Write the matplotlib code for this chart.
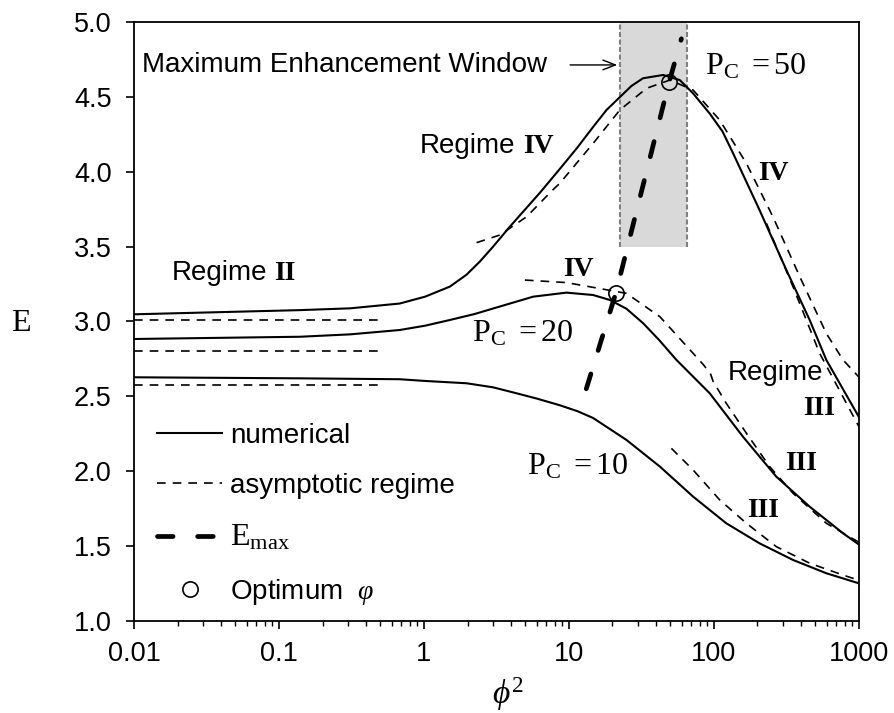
import matplotlib
matplotlib.use("Agg")
import matplotlib.pyplot as plt
from matplotlib.lines import Line2D

plt.rcParams['font.family'] = ['Liberation Sans', 'DejaVu Sans']
plt.rcParams['mathtext.fontset'] = 'custom'
plt.rcParams['mathtext.rm'] = 'Liberation Serif'
plt.rcParams['mathtext.it'] = 'Liberation Serif:italic'
plt.rcParams['mathtext.bf'] = 'Liberation Serif:bold'

# ---------------- data ----------------
# P_C = 50, numerical
x50_num = [0.01, 0.14, 0.31, 0.68, 1.02, 1.51, 1.97, 2.43, 3.0, 3.92, 6.31, 8.67, 11.5,
           14.7, 18.2, 22.5, 27, 32.5, 44.7, 58.3, 72, 93.8, 115, 136, 207, 317, 459, 598,
           1000]
e50_num = [3.048, 3.076, 3.088, 3.12, 3.166, 3.233, 3.313, 3.40, 3.50, 3.634, 3.86, 4.02,
           4.165, 4.30, 4.414, 4.50, 4.574, 4.626, 4.648, 4.614, 4.525, 4.39, 4.27, 4.124,
           3.745, 3.344, 3.01, 2.743, 2.364]
# P_C = 50, asymptotic regime IV
x50_iv = [2.31, 3.34, 5.11, 7.76, 8.67, 14.7, 22.5, 34.4, 49.8, 72.1, 110, 168, 256, 392,
          598, 780, 1000]
e50_iv = [3.527, 3.578, 3.70, 3.88, 3.924, 4.19, 4.414, 4.559, 4.614, 4.547, 4.346, 4.057,
          3.70, 3.30, 2.92, 2.743, 2.63]
# P_C = 50, asymptotic regime III
x50_iii = [231, 352, 538, 1000]
e50_iii = [3.656, 3.233, 2.787, 2.30]

# P_C = 20, numerical
x20_num = [0.01, 0.14, 0.31, 0.68, 1.02, 1.51, 2.24, 3.34, 5.68, 9.64, 14.7, 19.2, 25,
           32.6, 42, 55.3, 93.8, 159, 270, 459, 780, 1000]
e20_num = [2.883, 2.898, 2.914, 2.943, 2.972, 3.01, 3.05, 3.10, 3.166, 3.193, 3.177, 3.144,
           3.085, 2.988, 2.876, 2.743, 2.52, 2.23, 1.963, 1.762, 1.584, 1.51]
# P_C = 20, asymptotic regime IV
x20_iv = [4.98, 9.64, 16.4, 25, 42.5, 72.1, 85, 95]
e20_iv = [3.277, 3.26, 3.22, 3.188, 3.032, 2.787, 2.71, 2.65]
# P_C = 20, asymptotic regime III
x20_iii = [95, 99, 122, 168, 243, 352, 598, 1000]
e20_iii = [2.65, 2.60, 2.453, 2.253, 2.03, 1.852, 1.651, 1.525]

# P_C = 10, numerical
x10_num = [0.01, 0.14, 0.68, 1.0, 1.97, 3.0, 4.36, 6.0, 8.67, 11.5, 14.7, 25, 42.5, 72.1,
           122, 207, 352, 598, 1000]
e10_num = [2.627, 2.62, 2.614, 2.603, 2.587, 2.56, 2.52, 2.485, 2.44, 2.40, 2.355, 2.208,
           2.03, 1.829, 1.651, 1.517, 1.406, 1.317, 1.25]
# P_C = 10, asymptotic regime III
x10_iii = [51, 72.1, 110, 168, 270, 459, 780, 1000]
e10_iii = [2.152, 2.007, 1.807, 1.651, 1.495, 1.384, 1.305, 1.27]

# asymptotic regime II (low phi^2), for P_C = 50, 20, 10
x_ii = [0.01, 0.5]
e_ii = [3.01, 2.805, 2.578]

# E_max line and optimum points
x_emax = [13.2, 21.1, 49.2, 59.8]
e_emax = [2.55, 3.19, 4.60, 4.89]
x_opt = [21.1, 49.2]
e_opt = [3.188, 4.603]

# maximum enhancement window
win_x = [22.5, 64.9]
win_e = [3.5, 5.0]

xticks = [0.01, 0.1, 1, 10, 100, 1000]
xticklabels = ['0.01', '0.1', '1', '10', '100', '1000']
yticks = [1.0, 1.5, 2.0, 2.5, 3.0, 3.5, 4.0, 4.5, 5.0]

# ---------------- figure ----------------
fig = plt.figure(figsize=(8.94, 7.13), dpi=100)
ax = fig.add_axes([0.1499, 0.1295, 0.8106, 0.8392])
ax.set_xscale('log')
ax.set_xlim(0.01, 1000)
ax.set_ylim(1.0, 5.0)

# window
ax.fill_between(win_x, win_e[0], win_e[1], color='#d9d9d9', lw=0, zorder=1)
for xv in win_x:
    ax.plot([xv, xv], win_e, color='#808080', lw=1.5, dashes=(2.4, 1.2), zorder=1.5)

sol = dict(color='black', lw=1.5, zorder=3)
das = dict(color='black', lw=1.2, dashes=(5.2, 4.2), zorder=3)

ax.plot(x50_num, e50_num, **sol)
ax.plot(x20_num, e20_num, **sol)
ax.plot(x10_num, e10_num, **sol)
ax.plot(x50_iv, e50_iv, **das)
ax.plot(x50_iii, e50_iii, **das)
ax.plot(x20_iv, e20_iv, **das)
ax.plot(x20_iii, e20_iii, **das)
ax.plot(x10_iii, e10_iii, **das)
for ev in e_ii:
    ax.plot(x_ii, [ev, ev], **das)

ax.plot(x_emax, e_emax, color='black', lw=3.4, dashes=(3.3, 5.2),
        dash_capstyle='round', zorder=4)
ax.plot(x_opt, e_opt, ls='none', marker='o', ms=11, mfc='none', mec='black',
        mew=1.2, zorder=5)

# ---------------- annotations ----------------
ax.text(0.01135, 4.715, 'Maximum Enhancement Window', fontsize=20, ha='left', va='center')
ax.annotate('', xy=(21.6, 4.715), xytext=(10.2, 4.715),
            arrowprops=dict(arrowstyle='->,head_length=0.9,head_width=0.35', lw=1.0,
                            color='black', shrinkA=0, shrinkB=0))

pc_kw = dict(fontsize=23, ha='left', va='baseline')
ax.text(86.7, 4.648, r'$\mathrm{P}_{\mathrm{C}}\ = 50$', **pc_kw)
ax.text(2.14, 2.865, r'$\mathrm{P}_{\mathrm{C}}\ = 20$', **pc_kw)
ax.text(5.13, 1.98, r'$\mathrm{P}_{\mathrm{C}}\ =10$', **pc_kw)

rg_kw = dict(fontsize=20, ha='left', va='baseline')
rn_kw = dict(fontsize=20, ha='left', va='baseline', family='Liberation Serif',
             fontweight='bold')
ax.text(0.938, 4.126, 'Regime', **rg_kw)
ax.text(10 ** (-2 + (523 - 134) / 145), 4.126, 'IV', **rn_kw)
ax.text(0.01828, 3.277, 'Regime', **rg_kw)
ax.text(10 ** (-2 + (274 - 134) / 145), 3.277, 'II', **rn_kw)
ax.text(201, 3.946, 'IV', **rn_kw)
ax.text(9.1, 3.304, 'IV', **rn_kw)
ax.text(125, 2.609, 'Regime', **rg_kw)
ax.text(411, 2.375, 'III', **rn_kw)
ax.text(309, 2.007, 'III', **rn_kw)
ax.text(169, 1.691, 'III', **rn_kw)

# ---------------- axes styling ----------------
ax.set_xticks(xticks)
ax.set_xticklabels(xticklabels)
ax.set_yticks(yticks)
ax.set_yticklabels(['%.1f' % v for v in yticks])
ax.tick_params(axis='both', which='major', labelsize=19.5, direction='out',
               length=6, width=1.2)
ax.tick_params(axis='x', which='major', pad=9)
ax.tick_params(axis='y', which='major', pad=10)
ax.tick_params(axis='x', which='minor', direction='out', length=3.5, width=1.0)
ax.tick_params(axis='y', which='minor', left=False)
for s in ax.spines.values():
    s.set_linewidth(1.3)

ax.set_xlabel(r'$\phi^2$', fontsize=24, va='center')
ax.xaxis.set_label_coords(0.516, -0.1225)
ax.set_ylabel('E', fontsize=23, rotation=0, family='Liberation Serif',
              va='center', ha='center')
ax.yaxis.set_label_coords(-0.156, 0.497)

# ---------------- legend ----------------
handles = [
    Line2D([], [], color='black', lw=1.5),
    Line2D([], [], color='black', lw=1.2, dashes=(5.2, 4.2)),
    Line2D([], [], color='black', lw=3.4, dashes=(3.3, 5.2), dash_capstyle='round'),
    Line2D([], [], ls='none', marker='o', ms=11, mfc='none', mec='black', mew=1.2),
]
labels = ['numerical', 'asymptotic regime', r'$\mathrm{E}_{\mathrm{max}}$',
          r'Optimum  $\varphi$']
leg = ax.legend(handles, labels, loc='upper left', bbox_to_anchor=(0.0317, 0.331),
                frameon=False, fontsize=20, handlelength=2.35, handletextpad=0.29,
                labelspacing=0.87, borderpad=0, borderaxespad=0)
leg.get_texts()[2].set_fontsize(23)

fig.savefig('out.png', dpi=100)
